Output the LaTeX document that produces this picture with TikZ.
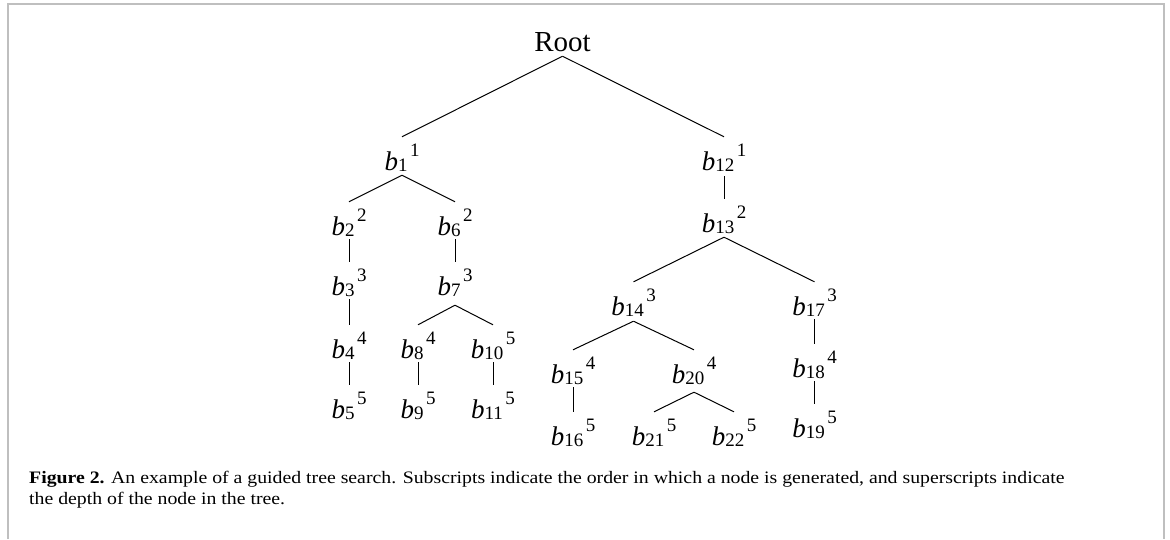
\documentclass[tikz,border=0pt]{standalone}
\usepackage{fontspec}
\usepackage{graphicx}
\setmainfont{Liberation Serif}

% label b_{sub} followed by a superscript depth
\newcommand{\bsym}[2]{{\fontsize{27}{27}\selectfont\itshape b}\raisebox{-1.5pt}{\fontsize{19}{19}\selectfont #1}\hspace{2.5pt}\raisebox{13.5pt}{\fontsize{19}{19}\selectfont #2}}

\begin{document}
\begin{tikzpicture}[x=1pt,y=-1pt,
  lbl/.style={inner xsep=0pt, inner ysep=4pt, text height=29pt, text depth=0pt, anchor=base},
  link/.style={line width=1pt},
  frameline/.style={draw=black!25, line width=2pt},
  captext/.style={inner sep=0pt, anchor=base west, font=\fontsize{17.5}{21}\selectfont}]

\useasboundingbox (0,0) rectangle (1170,539);

% page frame
\coordinate (fl1) at (7.5,539);
\coordinate (fl2) at (7.5,3.5);
\coordinate (fr1) at (1164,3.5);
\coordinate (fr2) at (1164,539);
\draw[frameline] (fl1) -- (fl2) -- (fr1) -- (fr2);

% nodes
\node[lbl, font=\fontsize{29}{29}\selectfont] (root) at (562.5,51) {Root};

\node[lbl] (b1)  at (402,170) {\bsym{1}{1}};
\node[lbl] (b12) at (724,170) {\bsym{12}{1}};

\node[lbl] (b2)  at (349,235) {\bsym{2}{2}};
\node[lbl] (b6)  at (455,235) {\bsym{6}{2}};
\node[lbl] (b3)  at (349,295) {\bsym{3}{3}};
\node[lbl] (b7)  at (455,295) {\bsym{7}{3}};
\node[lbl] (b4)  at (349,358) {\bsym{4}{4}};
\node[lbl] (b8)  at (418,358) {\bsym{8}{4}};
\node[lbl] (b10) at (493,358) {\bsym{10}{5}};
\node[lbl] (b5)  at (349,418) {\bsym{5}{5}};
\node[lbl] (b9)  at (418,418) {\bsym{9}{5}};
\node[lbl] (b11) at (493,418) {\bsym{11}{5}};

\node[lbl] (b13) at (724,232) {\bsym{13}{2}};
\node[lbl] (b14) at (633.5,315) {\bsym{14}{3}};
\node[lbl] (b17) at (814.5,315) {\bsym{17}{3}};
\node[lbl] (b15) at (573,383) {\bsym{15}{4}};
\node[lbl] (b20) at (694,383) {\bsym{20}{4}};
\node[lbl] (b18) at (814.5,377) {\bsym{18}{4}};
\node[lbl] (b16) at (573,445) {\bsym{16}{5}};
\node[lbl] (b21) at (654,445) {\bsym{21}{5}};
\node[lbl] (b22) at (734,445) {\bsym{22}{5}};
\node[lbl] (b19) at (814.5,437) {\bsym{19}{5}};

% edges
\draw[link] ([yshift=-1pt]root.south) -- (b1.north);
\draw[link] ([yshift=-1pt]root.south) -- (b12.north);
\draw[link] ([yshift=-1pt]b1.south) -- (b2.north);
\draw[link] ([yshift=-1pt]b1.south) -- (b6.north);
\draw[link] (b2.south) -- (b3.north);
\draw[link] (b6.south) -- (b7.north);
\draw[link] (b3.south) -- (b4.north);
\draw[link] ([yshift=-6pt]b7.south) -- (b8.north);
\draw[link] ([yshift=-6pt]b7.south) -- (b10.north);
\draw[link] (b4.south) -- (b5.north);
\draw[link] (b8.south) -- (b9.north);
\draw[link] (b10.south) -- (b11.north);

\draw[link] ([yshift=-2pt]b12.south) -- (b13.north);
\draw[link] ([yshift=-1pt]b13.south) -- (b14.north);
\draw[link] ([yshift=-1pt]b13.south) -- (b17.north);
\draw[link] ([yshift=-2pt]b14.south) -- (b15.north);
\draw[link] ([yshift=-2pt]b14.south) -- (b20.north);
\draw[link] (b17.south) -- (b18.north);
\draw[link] (b18.south) -- (b19.north);
\draw[link] (b15.south) -- (b16.north);
\draw[link] ([yshift=-5pt]b20.south) -- (b21.north);
\draw[link] ([yshift=-5pt]b20.south) -- (b22.north);

% caption
\node[captext] (cap1) at (29,483) {\scalebox{1.13}[1]{\textbf{Figure 2.} An example of a guided tree search. Subscripts indicate the order in which a node is generated, and superscripts indicate}};
\node[captext] (cap2) at (29,504) {\scalebox{1.13}[1]{the depth of the node in the tree.}};

\end{tikzpicture}
\end{document}
